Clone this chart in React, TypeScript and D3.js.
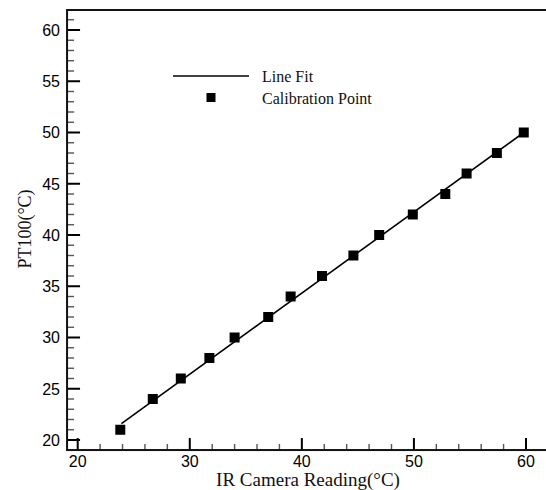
import React, { useEffect, useRef } from "react";
import * as d3 from "d3";

// calibration points
const irReading = [23.8, 26.7, 29.2, 31.75, 34.0, 37.0, 39.0, 41.8, 44.6, 46.9, 49.9, 52.8, 54.7, 57.4, 59.8];
const pt100 = [21, 24, 26, 28, 30, 32, 34, 36, 38, 40, 42, 44, 46, 48, 50];

// line fit end points
const fitX = [23.9, 59.8];
const fitY = [21.6, 50.0];

const xMajor = [20, 30, 40, 50, 60];
const yMajor = [20, 25, 30, 35, 40, 45, 50, 55, 60];

const W = 546;
const H = 490;

export default function App() {
  const ref = useRef<SVGSVGElement>(null);

  useEffect(() => {
    const svg = d3.select(ref.current);
    svg.selectAll("*").remove();

    const x = d3.scaleLinear().domain([20, 60]).range([77.7, 526]);
    const y = d3.scaleLinear().domain([20, 60]).range([440, 30]);

    const left = x(19.05), right = x(63), top = y(61.95), bottom = y(19.02);

    const g = svg.append("g");

    // minor ticks
    const xMinor = d3.range(20, 63, 2).filter((v) => v % 10 !== 0);
    const yMinor = d3.range(20, 62, 1).filter((v) => v % 5 !== 0);

    g.selectAll(".xminor")
      .data(xMinor)
      .enter()
      .append("line")
      .attr("x1", (d) => x(d))
      .attr("x2", (d) => x(d))
      .attr("y1", bottom)
      .attr("y2", bottom - 6)
      .attr("stroke", "#555")
      .attr("stroke-width", 1.4);

    g.selectAll(".yminor")
      .data(yMinor)
      .enter()
      .append("line")
      .attr("x1", left)
      .attr("x2", left + 7)
      .attr("y1", (d) => y(d))
      .attr("y2", (d) => y(d))
      .attr("stroke", "#555")
      .attr("stroke-width", 1.4);

    // major ticks
    g.selectAll(".xmajor")
      .data(xMajor)
      .enter()
      .append("line")
      .attr("x1", (d) => x(d))
      .attr("x2", (d) => x(d))
      .attr("y1", bottom)
      .attr("y2", bottom - 12)
      .attr("stroke", "#000")
      .attr("stroke-width", 2);

    g.selectAll(".ymajor")
      .data(yMajor)
      .enter()
      .append("line")
      .attr("x1", left)
      .attr("x2", left + 13)
      .attr("y1", (d) => y(d))
      .attr("y2", (d) => y(d))
      .attr("stroke", "#000")
      .attr("stroke-width", 2);

    // frame
    g.append("rect")
      .attr("x", left)
      .attr("y", top)
      .attr("width", right - left)
      .attr("height", bottom - top)
      .attr("fill", "none")
      .attr("stroke", "#111")
      .attr("stroke-width", 2);

    // tick labels
    g.selectAll(".xlab")
      .data(xMajor)
      .enter()
      .append("text")
      .attr("x", (d) => x(d))
      .attr("y", 467)
      .attr("text-anchor", "middle")
      .attr("font-family", "'Liberation Sans', Arial, sans-serif")
      .attr("font-size", 16)
      .attr("fill", "#000")
      .text((d) => d);

    g.selectAll(".ylab")
      .data(yMajor)
      .enter()
      .append("text")
      .attr("x", 60)
      .attr("y", (d) => y(d))
      .attr("dy", "0.36em")
      .attr("text-anchor", "end")
      .attr("font-family", "'Liberation Sans', Arial, sans-serif")
      .attr("font-size", 16)
      .attr("fill", "#000")
      .text((d) => d);

    // axis titles
    g.append("text")
      .attr("x", 308)
      .attr("y", 486)
      .attr("text-anchor", "middle")
      .attr("font-family", "'Liberation Serif', 'Times New Roman', serif")
      .attr("font-size", 19)
      .attr("fill", "#111")
      .text("IR Camera Reading(°C)");

    g.append("text")
      .attr("transform", "translate(31,229) rotate(-90)")
      .attr("text-anchor", "middle")
      .attr("font-family", "'Liberation Serif', 'Times New Roman', serif")
      .attr("font-size", 18)
      .attr("fill", "#111")
      .text("PT100(°C)");

    // line fit
    const line = d3
      .line<number>()
      .x((d) => x(d))
      .y((_, i) => y(fitY[i]));
    g.append("path")
      .attr("d", line(fitX))
      .attr("fill", "none")
      .attr("stroke", "#000")
      .attr("stroke-width", 1.6);

    // calibration points
    const s = 10;
    g.selectAll(".pt")
      .data(irReading)
      .enter()
      .append("rect")
      .attr("x", (d) => x(d) - s / 2)
      .attr("y", (_, i) => y(pt100[i]) - s / 2)
      .attr("width", s)
      .attr("height", s)
      .attr("fill", "#000");

    // legend
    const lg = g.append("g");
    lg.append("line")
      .attr("x1", 173)
      .attr("x2", 249)
      .attr("y1", 76)
      .attr("y2", 76)
      .attr("stroke", "#000")
      .attr("stroke-width", 1.6);
    lg.append("rect")
      .attr("x", 211 - 4.5)
      .attr("y", 97.5 - 4.5)
      .attr("width", 9)
      .attr("height", 9)
      .attr("fill", "#000");
    lg.append("text")
      .attr("x", 262)
      .attr("y", 82)
      .attr("font-family", "'Liberation Serif', 'Times New Roman', serif")
      .attr("font-size", 16)
      .attr("fill", "#111")
      .text("Line Fit");
    lg.append("text")
      .attr("x", 262)
      .attr("y", 103.5)
      .attr("font-family", "'Liberation Serif', 'Times New Roman', serif")
      .attr("font-size", 16)
      .attr("fill", "#111")
      .text("Calibration Point");
  }, []);

  return (
    <svg
      ref={ref}
      width={W}
      height={H}
      style={{ position: "absolute", left: 0, top: 0, background: "#fff" }}
    />
  );
}
